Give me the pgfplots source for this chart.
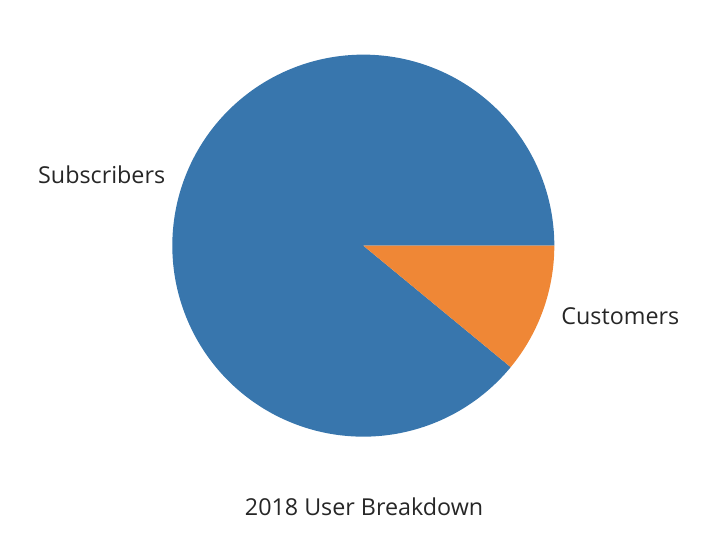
\documentclass[border=0pt]{standalone}
\usepackage{pgfplots}
\usepackage{pgfplotstable}
\pgfplotsset{compat=1.18}
\usepackage{fontspec}
\setmainfont{Open Sans}
\definecolor{pieblue}{RGB}{56,118,173}
\definecolor{pieorange}{RGB}{239,135,54}
\definecolor{txt}{RGB}{38,38,38}
\pgfplotstableread{
label value
Subscribers 89.03
Customers 10.97
}\piedata
\pgfplotstablegetelem{0}{value}\of\piedata \let\va\pgfplotsretval
\pgfplotstablegetelem{1}{value}\of\piedata \let\vb\pgfplotsretval
\pgfmathsetmacro\fracA{\va/(\va+\vb)}
\pgfmathsetmacro\angA{360*\fracA}
\pgfmathsetmacro\midA{\angA/2}
\pgfmathsetmacro\midB{(\angA+360)/2}
\begin{document}%
\begin{tikzpicture}
\begin{axis}[scale only axis, width=355bp, height=268bp,
  xmin=-1.902, xmax=1.815, ymin=-1.520, ymax=1.286,
  hide axis, clip=false]
\addplot[draw=none, fill=pieblue, domain=0:\angA, samples=300, variable=\t]
  ({cos(\t)},{sin(\t)}) -- (axis cs:0,0) -- cycle;
\addplot[draw=none, fill=pieorange, domain=\angA:360, samples=80, variable=\t]
  ({cos(\t)},{sin(\t)}) -- (axis cs:0,0) -- cycle;
\node[anchor=east, inner sep=0pt, text=txt, font=\fontsize{11.65bp}{14bp}\selectfont]
  at (axis cs:{1.1*cos(\midA)},{1.1*sin(\midA)}) {Subscribers};
\node[anchor=west, inner sep=0pt, text=txt, font=\fontsize{11.65bp}{14bp}\selectfont]
  at (axis cs:{1.1*cos(\midB)},{1.1*sin(\midB)}) {Customers};
\node[anchor=center, inner sep=0pt, text=txt, font=\fontsize{11.65bp}{14bp}\selectfont]
  at (axis cs:0.004,-1.368) {2018 User Breakdown};
\end{axis}
\pgfresetboundingbox
\path[use as bounding box] (current axis.south west) rectangle (current axis.north east);
\end{tikzpicture}%
\end{document}
